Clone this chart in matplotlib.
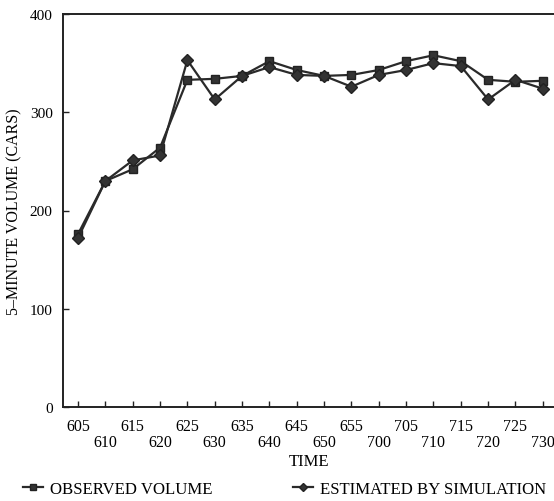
import matplotlib
matplotlib.use("Agg")
import matplotlib.pyplot as plt

times = ["605", "610", "615", "620", "625", "630", "635", "640", "645",
         "650", "655", "700", "705", "710", "715", "720", "725", "730"]
observed = [176, 230, 242, 264, 333, 334, 337, 352, 343,
            337, 338, 343, 352, 358, 352, 333, 331, 332]
simulated = [172, 230, 251, 256, 353, 313, 337, 346, 338,
             337, 326, 338, 343, 350, 347, 313, 333, 324]

plt.rcParams["font.family"] = ["Liberation Serif", "DejaVu Serif"]

fig = plt.figure(figsize=(5.54, 5.02), dpi=100)
ax = fig.add_axes([63 / 554, 94 / 502, 1 - 63 / 554 + 0.002, 393 / 502])

x = list(range(len(times)))
ax.plot(x, observed, color="#2a2a2a", lw=1.6, marker="s", ms=6,
        mfc="#333333", mec="#222222", label="OBSERVED VOLUME")
ax.plot(x, simulated, color="#2a2a2a", lw=1.6, marker="D", ms=6,
        mfc="#333333", mec="#222222", label="ESTIMATED BY SIMULATION")

ax.set_xlim(-0.55, 17.45)
ax.set_ylim(0, 400)
ax.set_xticks(x)
ax.set_xticklabels([t if i % 2 == 0 else "\n" + t for i, t in enumerate(times)])
for lab in ax.get_xticklabels():
    lab.set_linespacing(1.0)
ax.set_yticks([0, 100, 200, 300, 400])
ax.tick_params(axis="both", direction="in", length=4, width=1,
               labelsize=11.5, color="#222222")
ax.tick_params(axis="x", pad=8)
ax.tick_params(axis="y", pad=7.5, labelsize=11)
ax.spines["right"].set_visible(False)
for s in ["left", "top", "bottom"]:
    ax.spines[s].set_linewidth(1.4)
    ax.spines[s].set_color("#222222")

ax.set_xlabel("TIME", fontsize=12, labelpad=2)
ax.set_ylabel("5\u2013MINUTE VOLUME (CARS)", fontsize=11.5)
ax.yaxis.set_label_coords(-0.082, 0.5)

handles, labels = ax.get_legend_handles_labels()
fig.legend(handles, labels, loc="center left", bbox_to_anchor=(23 / 554, 12 / 502),
           ncol=2, frameon=False, fontsize=12.1, handlelength=1.2,
           handletextpad=0.4, columnspacing=4.8, markerscale=0.75,
           borderpad=0, borderaxespad=0)

fig.savefig("out.png", dpi=100)
